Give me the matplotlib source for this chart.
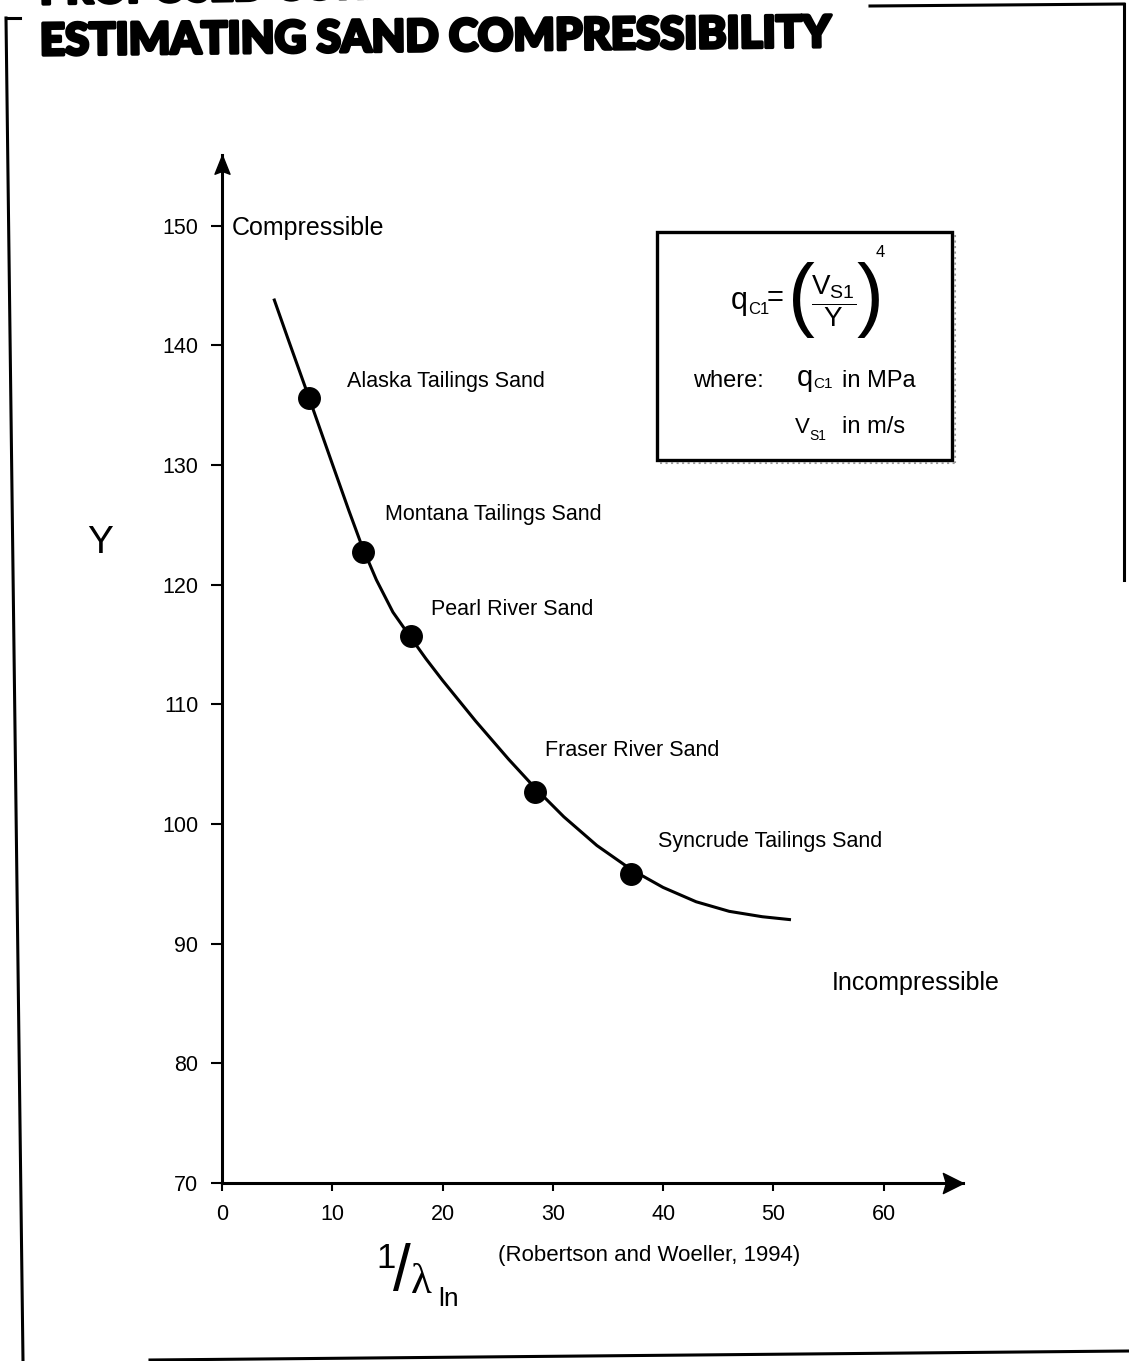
import matplotlib
matplotlib.use("Agg")
import matplotlib.pyplot as plt
import matplotlib.patheffects as pe
from matplotlib.lines import Line2D
from matplotlib.patches import Rectangle

# sands tested (Robertson and Woeller, 1994)
sands = ["Alaska Tailings Sand", "Montana Tailings Sand", "Pearl River Sand",
         "Fraser River Sand", "Syncrude Tailings Sand"]
inv_lambda = [7.9, 12.8, 17.1, 28.4, 37.1]
y_values = [135.6, 122.7, 115.7, 102.7, 95.8]

# fitted trend line, read along its length
curve_x = [4.7, 6.0, 7.9, 10.0, 11.5, 12.7, 14.0, 15.5, 17.1, 18.5, 20.0, 23.0,
           26.0, 28.4, 31.0, 34.0, 37.1, 40.0, 43.0, 46.0, 49.0, 51.6]
curve_y = [143.9, 140.5, 135.6, 130.1, 126.2, 123.2, 120.4, 117.7, 115.6, 113.8,
           112.0, 108.6, 105.4, 103.0, 100.6, 98.2, 96.2, 94.7, 93.5, 92.7,
           92.25, 92.0]

x_ticks = [0, 10, 20, 30, 40, 50, 60]
y_ticks = [70, 80, 90, 100, 110, 120, 130, 140, 150]

# label offsets from each point, in pixels
label_offsets = [(38, 16), (22, 38), (20, 27), (10, 41), (27, 33)]

plt.rcParams["mathtext.fontset"] = "custom"
plt.rcParams["mathtext.rm"] = "Liberation Sans"
plt.rcParams["mathtext.it"] = "Liberation Sans"
plt.rcParams["mathtext.sf"] = "Liberation Sans"
plt.rcParams["font.family"] = ["Liberation Sans", "DejaVu Sans"]

W, H = 1129, 1361
fig = plt.figure(figsize=(W / 100, H / 100), dpi=100)


def fx(px):
    return px / W


def fy(py):
    return 1 - py / H


def put(px, py, s, size, **kw):
    # text placed by its left edge and baseline, in pixels from top-left
    kw.setdefault("ha", "left")
    kw.setdefault("va", "baseline")
    return fig.text(fx(px), fy(py), s, fontsize=size, **kw)


ax = fig.add_axes([fx(222), fy(1183), (963 - 222) / W, (1183 - 155) / H])
ax.set_xlim(0, 67.2)
ax.set_ylim(70, 155.9)

for side in ["top", "right"]:
    ax.spines[side].set_visible(False)
for side in ["left", "bottom"]:
    ax.spines[side].set_linewidth(2.2)

ax.set_xticks(x_ticks)
ax.set_yticks(y_ticks)
ax.set_xticklabels([str(t) for t in x_ticks], fontsize=15.5)
ax.set_yticklabels([str(t) for t in y_ticks], fontsize=15.5)
ax.tick_params(axis="y", direction="out", length=8, width=1.5, pad=9)
ax.tick_params(axis="x", direction="out", length=6, width=1.5, pad=9)

# arrow heads on the axis ends
up_head = [(0, 0), (-0.4, -1), (0, -0.85), (0.4, -1), (0, 0)]
right_head = [(0, 0), (-1, 0.5), (-0.85, 0), (-1, -0.5), (0, 0)]
ax.plot([0], [1], marker=up_head, markersize=27, color="black",
        transform=ax.transAxes, clip_on=False)
ax.plot([1], [0], marker=right_head, markersize=29, color="black",
        transform=ax.transAxes, clip_on=False)

ax.plot(curve_x, curve_y, color="black", lw=2.2, solid_joinstyle="round",
        solid_capstyle="butt")
ax.plot(inv_lambda, y_values, "o", color="black", markersize=15.5)

for name, x, y, off in zip(sands, inv_lambda, y_values, label_offsets):
    ax.annotate(name, (x, y), xytext=off, textcoords="offset pixels",
                fontsize=15.5, va="center", ha="left")

ax.text(0.9, 149.8, "Compressible", fontsize=18, va="center", ha="left")
ax.text(55.3, 86.7, "Incompressible", fontsize=18, va="center", ha="left")

# axis titles
fig.text(fx(100), fy(543), "Y", fontsize=28, ha="center", va="center")
put(376, 1268, "1", 25)
put(393, 1290, "/", 46)
put(411, 1293, "λ", 31, family="Liberation Serif")
put(438, 1306, "ln", 19)
fig.text(fx(498), fy(1255), "(Robertson and Woeller, 1994)", fontsize=16,
         ha="left", va="center")

# correlation box
fig.add_artist(Rectangle((fx(657), fy(460)), (952 - 657) / W, (460 - 232) / H,
                         transform=fig.transFigure, fill=False, lw=2.4,
                         edgecolor="black"))
fig.add_artist(Line2D([fx(955), fx(955)], [fy(235), fy(463)], lw=1.5,
                      ls=":", color="#999999", transform=fig.transFigure))
fig.add_artist(Line2D([fx(660), fx(955)], [fy(463), fy(463)], lw=1.5,
                      ls=":", color="#999999", transform=fig.transFigure))

# q_c1 = (Vs1 / Y)^4
put(731, 309, "q", 22)
put(748, 314, "C1", 12)
put(767, 306, "=", 21)
put(788, 321, "(", 58)
fig.text(fx(834), fy(301), r"$\dfrac{V_{S1}}{Y}$", fontsize=20,
         ha="center", va="center")
put(856, 321, ")", 58)
put(876, 257, "4", 12)

put(693, 387, "where:", 17)
put(797, 386, "q", 21)
put(813, 388, "C1", 11)
put(842, 387, "in MPa", 17)
put(795, 433, "V", 16)
put(809, 440, "S1", 10)
put(842, 433, "in m/s", 17)

# page heading
heavy = [pe.withStroke(linewidth=2.5, foreground="black")]
fig.text(fx(40), fy(4), "PROPOSED CORRELATION FOR", fontsize=30,
         fontweight="black", family=["Lato", "DejaVu Sans"], ha="left",
         va="baseline", rotation=1, rotation_mode="anchor", path_effects=heavy)
fig.text(fx(40), fy(55), "ESTIMATING SAND COMPRESSIBILITY", fontsize=31.5,
         fontweight="black", family=["Lato", "DejaVu Sans"], ha="left",
         va="baseline", rotation=0.6, rotation_mode="anchor", path_effects=heavy)

# page frame
frame = [
    ([6, 20], [18, 18]),
    ([6, 23], [18, 1361]),
    ([870, 1124], [6, 4]),
    ([1124, 1124], [4, 580]),
    ([150, 1129], [1360, 1351]),
]
for xs, ys in frame:
    fig.add_artist(Line2D([fx(v) for v in xs], [fy(v) for v in ys], lw=2.2,
                          color="black", transform=fig.transFigure))

fig.savefig("out.png", dpi=100)
